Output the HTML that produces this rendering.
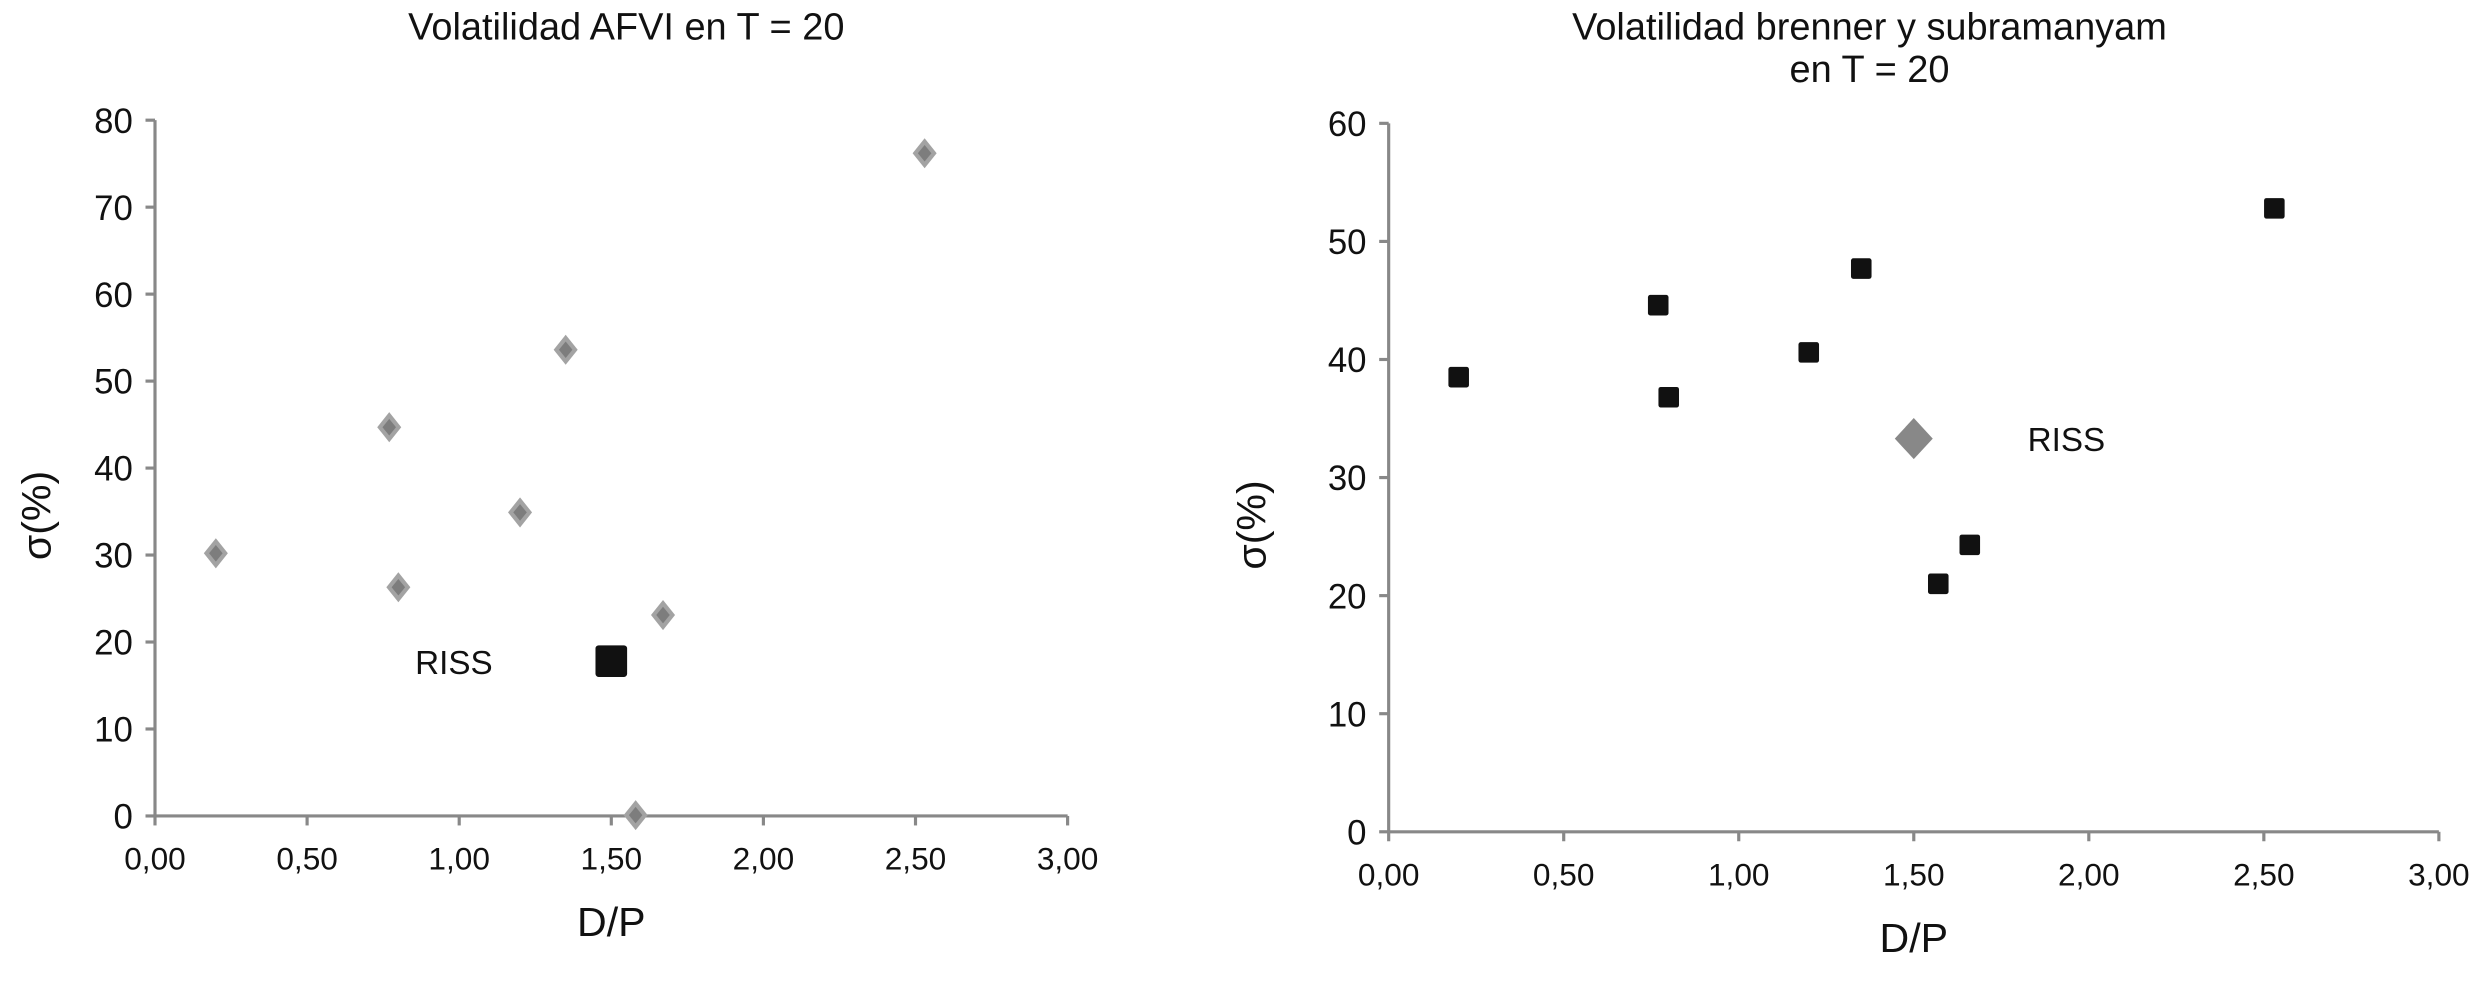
<!DOCTYPE html>
<html><head><meta charset="utf-8"><style>
html,body{margin:0;padding:0;background:#fff;}
svg{display:block;font-family:"Liberation Sans",Arial,sans-serif;}
</style></head><body>
<svg id="chart" width="2480" height="982" viewBox="0 0 1568 621" preserveAspectRatio="none" xmlns="http://www.w3.org/2000/svg"></svg>
<script>
const leftX = [0.20, 0.77, 0.80, 1.20, 1.35, 1.58, 1.67, 2.53];
const leftY = [30.2, 44.7, 26.3, 34.9, 53.6, 0.1, 23.1, 76.2];
const leftRiss = [1.50, 17.8];
const rightX = [0.20, 0.77, 0.80, 1.20, 1.35, 1.57, 1.66, 2.53];
const rightY = [38.5, 44.6, 36.8, 40.6, 47.7, 21.0, 24.3, 52.8];
const rightRiss = [1.50, 33.3];
const xTicks = ["0,00","0,50","1,00","1,50","2,00","2,50","3,00"];
const leftYTicks = [0,10,20,30,40,50,60,70,80];
const rightYTicks = [0,10,20,30,40,50,60];

const NS = "http://www.w3.org/2000/svg";
const svg = document.getElementById('chart');
function mk(tag, attrs, parent){
  const e = document.createElementNS(NS, tag);
  for (const k in attrs) e.setAttribute(k, attrs[k]);
  (parent||svg).appendChild(e);
  return e;
}
function diamond(g, cx, cy, r, outer, inner){
  const d = mk('path', {d:`M${cx},${cy-r}L${cx+r*0.8},${cy}L${cx},${cy+r}L${cx-r*0.8},${cy}Z`, fill:outer}, g);
  mk('path', {d:`M${cx},${cy-r*0.55}L${cx+r*0.45},${cy}L${cx},${cy+r*0.55}L${cx-r*0.45},${cy}Z`, fill:inner}, g);
  return d;
}
function chart(o){
  const g = mk('g', {});
  
  
  const sx = v => o.x0 + (v/3)*(o.x1-o.x0);
  const sy = v => o.y0 - (v/o.ymax)*(o.y0-o.y1);
  o.title.forEach((t,i)=>{
    const tt = mk('text', {x:o.titleX, y:o.titleY+i*27, 'font-size':24, 'text-anchor':'middle', fill:'#111'}, g);
    tt.textContent = t;
    
    
  });
  const ya = mk('line', {x1:o.x0, y1:o.y1, x2:o.x0, y2:o.y0, stroke:'#888', 'stroke-width':2}, g);
  
  
  const xa = mk('line', {x1:o.x0, y1:o.y0, x2:o.x1, y2:o.y0, stroke:'#888', 'stroke-width':2}, g);
  
  
  o.yTicks.forEach(v=>{
    const y = sy(v);
    mk('line', {x1:o.x0-6, y1:y, x2:o.x0, y2:y, stroke:'#888', 'stroke-width':2}, g);
    const t = mk('text', {x:o.x0-14, y:y+8, 'font-size':22, 'text-anchor':'end', fill:'#111'}, g);
    t.textContent = v;
    
    
  });
  xTicks.forEach((lab,i)=>{
    const x = sx(i*0.5);
    mk('line', {x1:x, y1:o.y0, x2:x, y2:o.y0+6, stroke:'#888', 'stroke-width':2}, g);
    const t = mk('text', {x:x, y:o.y0+34, 'font-size':20, 'text-anchor':'middle', fill:'#111'}, g);
    t.textContent = lab;
    
    
  });
  const xt = mk('text', {x:(o.x0+o.x1)/2, y:o.y0+76, 'font-size':26, 'text-anchor':'middle', fill:'#111'}, g);
  xt.textContent = 'D/P';
  
  
  const yc = (o.y0+o.y1)/2 + 30;
  const yt = mk('text', {x:0, y:0, 'font-size':26, 'text-anchor':'middle', fill:'#111', transform:`translate(${o.x0-o.ytOff},${yc}) rotate(-90)`}, g);
  yt.textContent = 'σ(%)';
  
  
  o.xs.forEach((xv,i)=>{
    const cx = sx(xv), cy = sy(o.ys[i]);
    let m;
    if (o.pointShape==='diamond'){ m = diamond(g, cx, cy, 9.5, '#a3a3a3', '#7d7d7d'); }
    else { m = mk('rect', {x:cx-6.5, y:cy-6.5, width:13, height:13, rx:1.5, fill:'#111'}, g); }
    
    
  });
  const rx = sx(o.riss[0]), ry = sy(o.riss[1]);
  let rm;
  if (o.pointShape==='diamond'){ rm = mk('rect', {x:rx-10, y:ry-10, width:20, height:20, rx:2, fill:'#111'}, g); }
  else { rm = mk('path', {d:`M${rx},${ry-13}L${rx+12},${ry}L${rx},${ry+13}L${rx-12},${ry}Z`, fill:'#888'}, g); }
  
  
  const rl = mk('text', {x:rx+o.rissDx, y:ry+8, 'font-size':21, 'text-anchor':o.rissAnchor, fill:'#111'}, g);
  rl.textContent = 'RISS';
  
  
}
chart({name:'afvi-chart', x0:98, x1:675, y0:516, y1:76, ymax:80, yTicks:leftYTicks, xs:leftX, ys:leftY, riss:leftRiss,
  pointShape:'diamond', title:['Volatilidad AFVI en T = 20'], titleX:396, titleY:25, rissDx:-75, rissAnchor:'end', ytOff:66});
chart({name:'brenner-chart', x0:878, x1:1542, y0:526, y1:78, ymax:60, yTicks:rightYTicks, xs:rightX, ys:rightY, riss:rightRiss,
  pointShape:'square', title:['Volatilidad brenner y subramanyam','en T = 20'], titleX:1182, titleY:25, rissDx:72, rissAnchor:'start', ytOff:78});
</script>
</body></html>
